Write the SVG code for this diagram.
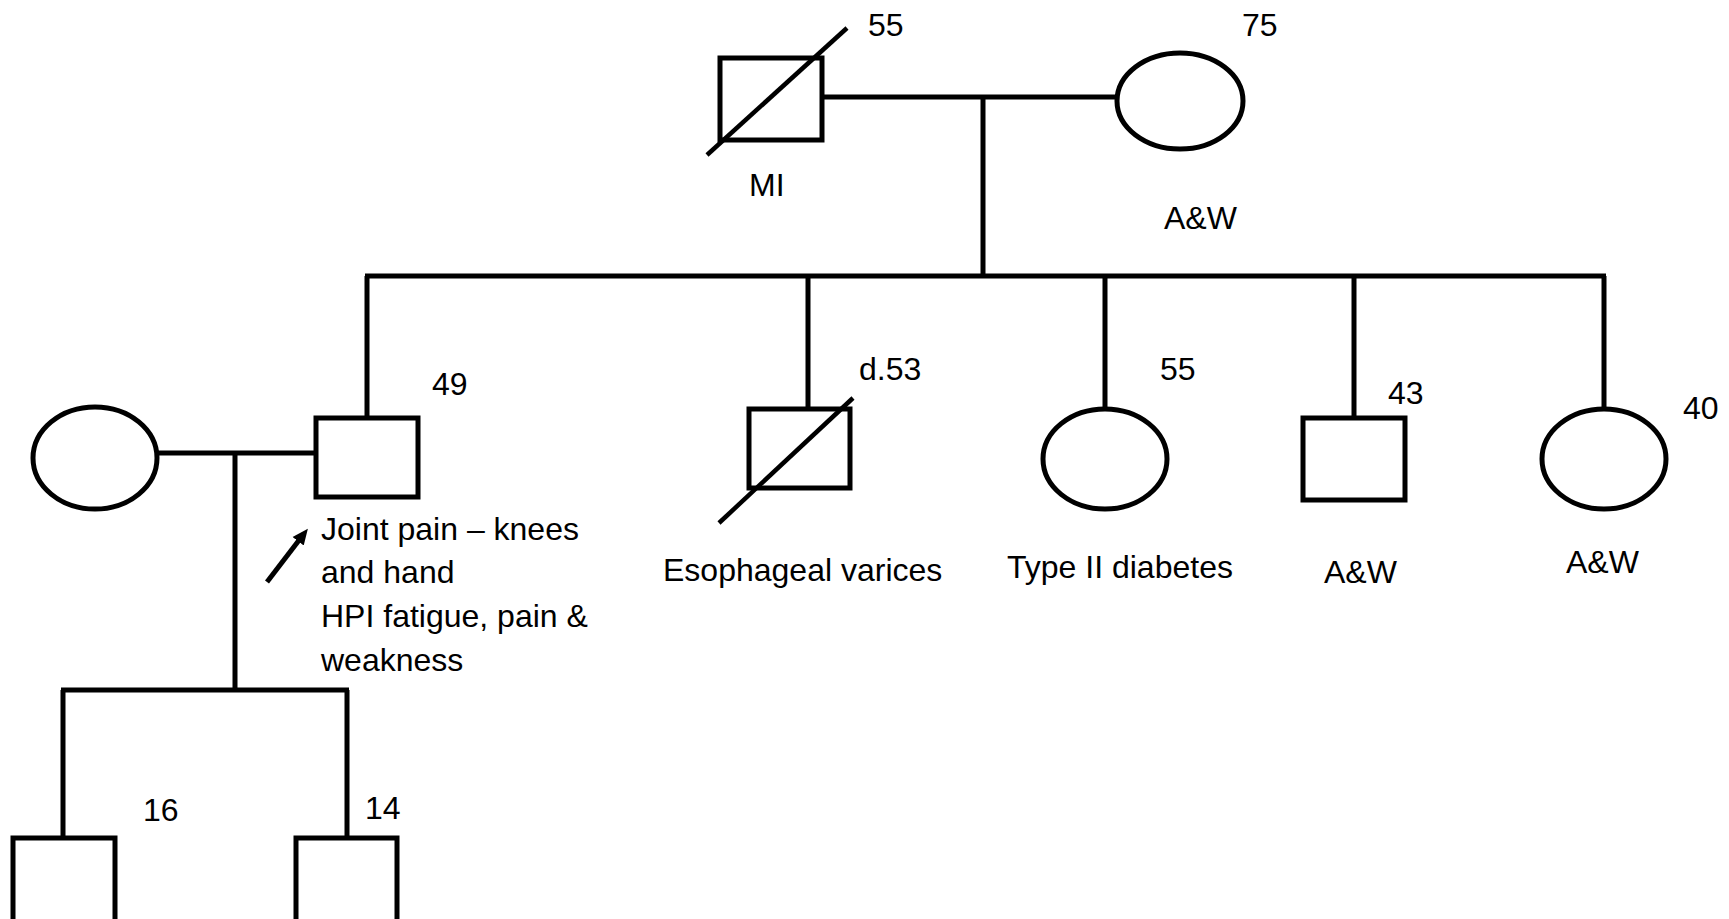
<svg xmlns="http://www.w3.org/2000/svg" width="1729" height="919" viewBox="0 0 1729 919">
<style>
.s{fill:#fff;stroke:#000;stroke-width:5}
.l{stroke:#000;stroke-width:5;fill:none}
.d{stroke:#000;stroke-width:4.5;fill:none}
text{font-family:"Liberation Sans",Arial,sans-serif;font-size:32px;fill:#000}
</style>
<defs>
<marker id="ah" markerWidth="16" markerHeight="16" refX="8" refY="8" orient="auto" markerUnits="userSpaceOnUse" viewBox="0 0 16 16">
<path d="M0,1 L16,8 L0,15 z" fill="#000"/>
</marker>
</defs>
<rect width="1729" height="919" fill="#fff"/>
<g id="connectors">
<line class="l" x1="822" y1="97" x2="1117" y2="97"/>
<line class="l" x1="983" y1="97" x2="983" y2="276"/>
<line class="l" x1="365" y1="276" x2="1606" y2="276"/>
<line class="l" x1="367" y1="276" x2="367" y2="418"/>
<line class="l" x1="808" y1="276" x2="808" y2="409"/>
<line class="l" x1="1105" y1="276" x2="1105" y2="409"/>
<line class="l" x1="1354" y1="276" x2="1354" y2="418"/>
<line class="l" x1="1604" y1="276" x2="1604" y2="409"/>
<line class="l" x1="157" y1="453" x2="316" y2="453"/>
<line class="l" x1="235" y1="453" x2="235" y2="690"/>
<line class="l" x1="61" y1="690" x2="349" y2="690"/>
<line class="l" x1="63" y1="690" x2="63" y2="838"/>
<line class="l" x1="347" y1="690" x2="347" y2="838"/>
<line stroke="#000" stroke-width="5" x1="267" y1="582" x2="303" y2="535" marker-end="url(#ah)"/>
</g>
<g id="grandfather">
<rect class="s" x="720" y="58" width="102" height="82"/>
<line class="d" x1="707" y1="155" x2="847" y2="28"/>
<text x="868" y="36">55</text>
<text x="749" y="196">MI</text>
</g>
<g id="grandmother">
<ellipse class="s" cx="1180" cy="101" rx="63" ry="48"/>
<text x="1242" y="36">75</text>
<text x="1164" y="229">A&amp;W</text>
</g>
<g id="spouse">
<ellipse class="s" cx="95" cy="458" rx="62" ry="51"/>
</g>
<g id="proband">
<rect class="s" x="316" y="418" width="102" height="79"/>
<text x="432" y="395">49</text>
<text x="321" y="540">Joint pain – knees</text>
<text x="321" y="583">and hand</text>
<text x="321" y="627">HPI fatigue, pain &amp;</text>
<text x="321" y="671">weakness</text>
</g>
<g id="brother-deceased">
<rect class="s" x="749" y="409" width="101" height="79"/>
<line class="d" x1="719" y1="523" x2="853" y2="398"/>
<text x="859" y="380">d.53</text>
<text x="663" y="581">Esophageal varices</text>
</g>
<g id="sister-55">
<ellipse class="s" cx="1105" cy="459" rx="62" ry="50"/>
<text x="1160" y="380">55</text>
<text x="1007" y="578">Type II diabetes</text>
</g>
<g id="brother-43">
<rect class="s" x="1303" y="418" width="102" height="82"/>
<text x="1388" y="404">43</text>
<text x="1324" y="583">A&amp;W</text>
</g>
<g id="sister-40">
<ellipse class="s" cx="1604" cy="459" rx="62" ry="50"/>
<text x="1683" y="419">40</text>
<text x="1566" y="573">A&amp;W</text>
</g>
<g id="son-16">
<rect class="s" x="13" y="838" width="102" height="100"/>
<text x="143" y="821">16</text>
</g>
<g id="son-14">
<rect class="s" x="296" y="838" width="101" height="100"/>
<text x="365" y="819">14</text>
</g>
</svg>
